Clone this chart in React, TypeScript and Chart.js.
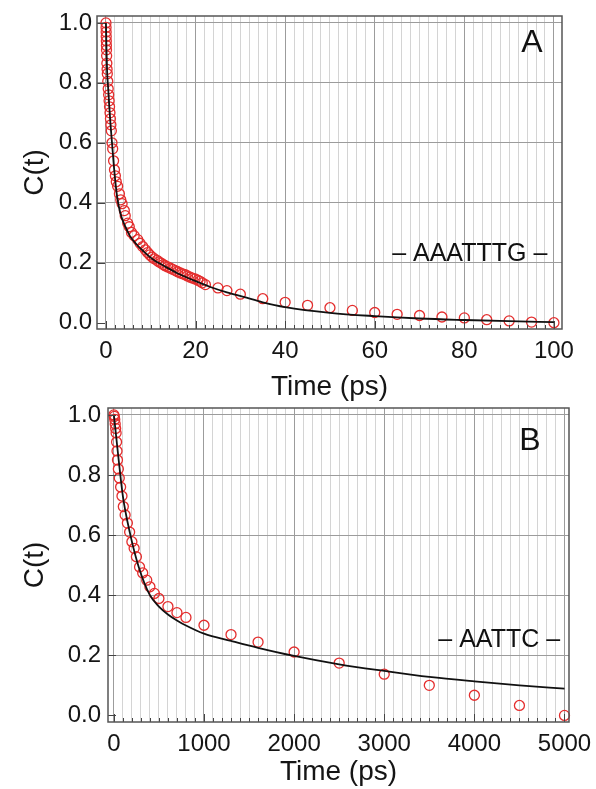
import React, { useEffect, useRef } from 'react';
import { Chart, registerables } from 'chart.js';
Chart.register(...registerables);

const FONT = '"Liberation Sans", Arial, Helvetica, sans-serif';

// ---------- Panel A (AAATTTG), time in ps ----------
const timeA = [0, 0.02, 0.04, 0.06, 0.08, 0.1, 0.12, 0.15, 0.2, 0.25, 0.3, 0.4, 0.5, 0.6, 0.7, 0.8, 0.9, 1.0, 1.1, 1.2, 1.35, 1.5, 1.7, 1.9, 2.1, 2.3, 2.6, 3.0, 3.3, 3.6, 4.1, 4.3, 4.85, 5.2, 5.7, 6.3, 7.1, 7.6, 8.2, 8.8, 9.3, 9.8, 10.3, 10.8, 11.4, 11.8, 12.3, 12.8, 13.2, 13.8, 14.4, 14.9, 15.5, 16.0, 16.6, 17.1, 17.7, 18.2, 18.8, 19.3, 19.9, 20.5, 21.0, 21.5, 22.2, 25, 27, 30, 35, 40, 45, 50, 55, 60, 65, 70, 75, 80, 85, 90, 95, 100];
const corrA = [1.0, 0.985, 0.97, 0.955, 0.94, 0.925, 0.91, 0.89, 0.865, 0.845, 0.83, 0.805, 0.78, 0.76, 0.74, 0.72, 0.7, 0.68, 0.66, 0.64, 0.6, 0.58, 0.54, 0.51, 0.49, 0.47, 0.455, 0.43, 0.41, 0.397, 0.374, 0.357, 0.332, 0.32, 0.301, 0.29, 0.277, 0.265, 0.254, 0.243, 0.234, 0.226, 0.219, 0.213, 0.208, 0.203, 0.199, 0.194, 0.19, 0.186, 0.182, 0.178, 0.174, 0.17, 0.166, 0.163, 0.16, 0.156, 0.152, 0.149, 0.146, 0.142, 0.138, 0.133, 0.127, 0.116, 0.107, 0.095, 0.08, 0.068, 0.058, 0.05, 0.041, 0.034, 0.028, 0.024, 0.019, 0.016, 0.01, 0.006, 0.002, 0.0];
const fitTimeA = [0, 0.1, 0.25, 0.5, 0.75, 1.0, 1.35, 1.7, 2.0, 2.5, 3.2, 4.3, 5.4, 6.9, 8.4, 10.6, 12.9, 15.8, 19.6, 23.3, 27, 30.7, 35, 40, 50, 60, 70, 80, 90, 100];
const fitA = [1.0, 0.92, 0.84, 0.78, 0.72, 0.665, 0.6, 0.535, 0.485, 0.42, 0.366, 0.321, 0.288, 0.26, 0.238, 0.21, 0.19, 0.166, 0.141, 0.119, 0.101, 0.086, 0.068, 0.052, 0.033, 0.022, 0.014, 0.009, 0.005, 0.002];
const xLabelsA = [0, 20, 40, 60, 80, 100];

// ---------- Panel B (AATTC), time in ps ----------
const timeB = [0, 5, 10, 15, 20, 25, 30, 35, 40, 50, 60, 75, 90, 105, 125, 150, 175, 200, 225, 250, 285, 320, 365, 400, 450, 500, 600, 700, 800, 1000, 1300, 1600, 2000, 2500, 3000, 3500, 4000, 4500, 5000];
const corrB = [1.0, 0.995, 0.985, 0.97, 0.955, 0.94, 0.91, 0.88, 0.85, 0.82, 0.79, 0.76, 0.73, 0.695, 0.667, 0.64, 0.61, 0.578, 0.556, 0.528, 0.494, 0.474, 0.45, 0.428, 0.406, 0.389, 0.362, 0.342, 0.326, 0.3, 0.269, 0.244, 0.211, 0.174, 0.137, 0.1, 0.067, 0.033, 0.0];
const fitTimeB = [0, 25, 50, 100, 180, 275, 400, 500, 600, 700, 800, 1000, 1300, 1600, 2000, 2500, 3000, 3500, 4000, 4500, 5000];
const fitB = [1.0, 0.93, 0.86, 0.73, 0.605, 0.495, 0.4, 0.362, 0.336, 0.316, 0.299, 0.272, 0.248, 0.225, 0.198, 0.17, 0.148, 0.128, 0.113, 0.1, 0.089];
const xLabelsB = [0, 1000, 2000, 3000, 4000, 5000];

const yLabels = [0, 0.2, 0.4, 0.6, 0.8, 1.0];

const near = (v: number, arr: number[]) => arr.some((a) => Math.abs(a - v) < 1e-6);

type PanelCfg = {
  t: number[]; c: number[]; ft: number[]; f: number[];
  xLabels: number[]; xMin: number; xMax: number; xStep: number;
  yMin: number; yMax: number;
  letter: string; letterAt: [number, number];
  seq: string; seqAt: [number, number];
  pad: { top: number; right: number; left: number; bottom: number };
  yWidth: number; xHeight: number; yLabelPad: number;
};

function framePlugin(cfg: PanelCfg) {
  return {
    id: 'frame',
    afterDraw(chart: any) {
      const { ctx, chartArea: ca, scales } = chart;
      const xs = scales.x, ys = scales.y;
      const last = cfg.xLabels[cfg.xLabels.length - 1];
      ctx.save();
      ctx.strokeStyle = '#444';
      ctx.lineWidth = 1;
      xs.ticks.forEach((tk: any) => {
        const v = tk.value;
        if (v < -1e-9 || v > last + 1e-9) return;
        const px = Math.round(xs.getPixelForValue(v)) + 0.5;
        const len = near(v, cfg.xLabels) ? 8 : 4;
        ctx.beginPath();
        ctx.moveTo(px, ca.bottom);
        ctx.lineTo(px, ca.bottom - len);
        ctx.stroke();
      });
      yLabels.forEach((v) => {
        const py = Math.round(ys.getPixelForValue(v)) + 0.5;
        ctx.beginPath();
        ctx.moveTo(ca.left, py);
        ctx.lineTo(ca.left + 8, py);
        ctx.stroke();
      });
      ctx.strokeStyle = '#555';
      ctx.lineWidth = 1.5;
      ctx.strokeRect(ca.left, ca.top, ca.right - ca.left, ca.bottom - ca.top);
      ctx.fillStyle = '#111';
      ctx.textAlign = 'center';
      ctx.textBaseline = 'middle';
      ctx.font = `32px ${FONT}`;
      ctx.fillText(cfg.letter, xs.getPixelForValue(cfg.letterAt[0]), ys.getPixelForValue(cfg.letterAt[1]));
      ctx.font = `25px ${FONT}`;
      ctx.fillText(cfg.seq, xs.getPixelForValue(cfg.seqAt[0]), ys.getPixelForValue(cfg.seqAt[1]));
      ctx.restore();
    },
  };
}

function buildChart(canvas: HTMLCanvasElement, cfg: PanelCfg) {
  const last = cfg.xLabels[cfg.xLabels.length - 1];
  return new Chart(canvas, {
    type: 'scatter',
    data: {
      datasets: [
        {
          label: 'fit',
          data: cfg.ft.map((x, i) => ({ x, y: cfg.f[i] })),
          showLine: true,
          borderColor: '#111',
          borderWidth: 1.8,
          pointRadius: 0,
          cubicInterpolationMode: 'monotone',
          clip: false,
        },
        {
          label: 'C(t)',
          data: cfg.t.map((x, i) => ({ x, y: cfg.c[i] })),
          showLine: false,
          pointRadius: 5,
          pointBorderWidth: 1.3,
          pointBorderColor: 'rgb(228,45,45)',
          pointBackgroundColor: 'rgba(0,0,0,0)',
          clip: false,
        },
      ],
    } as any,
    options: {
      animation: false,
      responsive: false,
      events: [],
      layout: { padding: cfg.pad },
      plugins: { legend: { display: false }, tooltip: { enabled: false } },
      scales: {
        x: {
          type: 'linear',
          min: cfg.xMin,
          max: cfg.xMax,
          afterFit: (s: any) => { s.height = cfg.xHeight; s.paddingLeft = 0; s.paddingRight = 0; },
          border: { display: false },
          grid: {
            drawTicks: false,
            lineWidth: 1,
            color: (c: any) => {
              const v = c.tick ? c.tick.value : NaN;
              if (!(v > -1e-9 && v < last + 1e-9)) return 'rgba(0,0,0,0)';
              return near(v, cfg.xLabels) ? '#9c9c9c' : '#d4d4d4';
            },
          },
          ticks: {
            stepSize: cfg.xStep,
            includeBounds: false,
            autoSkip: false,
            maxRotation: 0,
            minRotation: 0,
            padding: 8,
            color: '#151515',
            font: { family: FONT, size: 24 },
            callback: (v: any) => (near(Number(v), cfg.xLabels) ? String(Math.round(Number(v))) : ''),
          },
          title: {
            display: true,
            text: 'Time (ps)',
            color: '#151515',
            font: { family: FONT, size: 28 },
            padding: { top: 0, bottom: 0 },
          },
        },
        y: {
          type: 'linear',
          min: cfg.yMin,
          max: cfg.yMax,
          afterFit: (s: any) => { s.width = cfg.yWidth; s.paddingTop = 0; s.paddingBottom = 0; },
          border: { display: false },
          grid: {
            drawTicks: false,
            lineWidth: 1,
            color: (c: any) => {
              const v = c.tick ? c.tick.value : NaN;
              return v > 0.1 && v < 1.01 && near(v, yLabels) ? '#9c9c9c' : 'rgba(0,0,0,0)';
            },
          },
          ticks: {
            stepSize: 0.2,
            includeBounds: false,
            autoSkip: false,
            padding: cfg.yLabelPad,
            color: '#151515',
            font: { family: FONT, size: 24 },
            callback: (v: any) => (near(Number(v), yLabels) ? Number(v).toFixed(1) : ''),
          },
          title: {
            display: true,
            text: 'C(t)',
            color: '#151515',
            font: { family: FONT, size: 28 },
            padding: { top: 18, bottom: 0 },
          },
        },
      },
    } as any,
    plugins: [framePlugin(cfg) as any],
  });
}

const panelA: PanelCfg = {
  t: timeA, c: corrA, ft: fitTimeA, f: fitA,
  xLabels: xLabelsA, xMin: -2, xMax: 101.8, xStep: 2,
  yMin: -0.021, yMax: 1.023,
  letter: 'A', letterAt: [95.1, 0.932],
  seq: '– AAATTTG –', seqAt: [81.2, 0.23],
  pad: { top: 16, right: 34, left: 0, bottom: 0 },
  yWidth: 97, xHeight: 75, yLabelPad: 5,
};

const panelB: PanelCfg = {
  t: timeB, c: corrB, ft: fitTimeB, f: fitB,
  xLabels: xLabelsB, xMin: -65, xMax: 5050, xStep: 100,
  yMin: -0.022, yMax: 1.023,
  letter: 'B', letterAt: [4616, 0.914],
  seq: '– AATTC –', seqAt: [4276, 0.252],
  pad: { top: 12, right: 27, left: 0, bottom: 0 },
  yWidth: 108, xHeight: 67, yLabelPad: 7,
};

function Panel({ cfg, top, height }: { cfg: PanelCfg; top: number; height: number }) {
  const ref = useRef<HTMLCanvasElement | null>(null);
  useEffect(() => {
    if (!ref.current) return;
    const chart = buildChart(ref.current, cfg);
    return () => chart.destroy();
  }, [cfg]);
  return (
    <canvas
      ref={ref}
      width={596}
      height={height}
      style={{ position: 'absolute', left: 0, top, width: 596, height }}
    />
  );
}

export default function App() {
  return (
    <div style={{ position: 'absolute', left: 0, top: 0, width: 596, height: 789, background: '#fff', overflow: 'hidden' }}>
      <Panel cfg={panelA} top={0} height={404} />
      <Panel cfg={panelB} top={396} height={393} />
    </div>
  );
}
